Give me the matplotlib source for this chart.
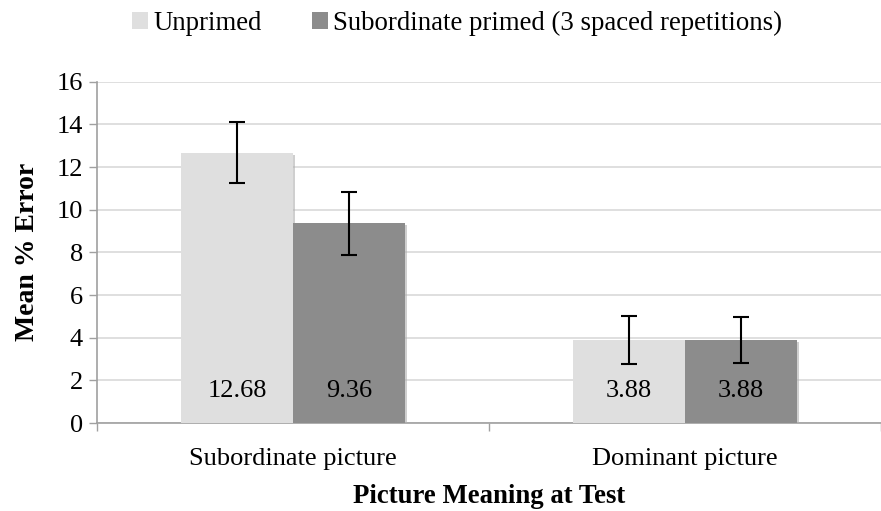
import matplotlib
matplotlib.use("Agg")
import matplotlib.pyplot as plt
import matplotlib.patheffects as pe
from matplotlib.patches import Patch
import numpy as np

categories = ["Subordinate picture", "Dominant picture"]
series_names = ["Unprimed", "Subordinate primed (3 spaced repetitions)"]
unprimed = [12.68, 3.88]
primed = [9.36, 3.88]
unprimed_err = [1.44, 1.12]
primed_err = [1.47, 1.07]
yticks = [0, 2, 4, 6, 8, 10, 12, 14, 16]

plt.rcParams['font.family'] = ['Liberation Serif', 'DejaVu Serif']

W, H = 881, 511
fig = plt.figure(figsize=(W/100, H/100), dpi=100)
left, right = 97, 881
bottom, top = 423, 81.7
ax = fig.add_axes([left/W, 1-bottom/H, (right-left)/W, (bottom-top)/H])

x = np.arange(len(categories))
bw = 0.286
c_light = "#dfdfdf"
c_dark = "#8c8c8c"
shadow = [pe.SimplePatchShadow(offset=(1.5, -1.5), shadow_rgbFace="#b0b0b0", alpha=0.6), pe.Normal()]

b1 = ax.bar(x - bw/2, unprimed, bw, color=c_light, zorder=3, path_effects=shadow)
b2 = ax.bar(x + bw/2, primed, bw, color=c_dark, zorder=3, path_effects=shadow)
ax.errorbar(x - bw/2, unprimed, yerr=unprimed_err, fmt='none', ecolor='black', elinewidth=1.5, capsize=5.7, capthick=1.5, zorder=4)
ax.errorbar(x + bw/2, primed, yerr=primed_err, fmt='none', ecolor='black', elinewidth=1.5, capsize=5.7, capthick=1.5, zorder=4)

for bars, vals in ((b1, unprimed), (b2, primed)):
    for r, v in zip(bars, vals):
        ax.text(r.get_x() + r.get_width()/2, 1.5, f"{v:.2f}", ha='center', va='center', fontsize=19, zorder=5)

ax.set_ylim(0, 16)
ax.set_yticks(yticks)
ax.set_xlim(-0.496, 1.469)
ax.set_xticks([-0.5, 0.5, 1.5], minor=False)
ax.set_xticklabels([])
ax.set_xticks(x, minor=True)
ax.set_xticklabels(categories, minor=True, fontsize=19)
ax.tick_params(axis='x', which='minor', length=0, pad=18)
ax.tick_params(axis='x', which='major', length=6, color='#a0a0a0', width=1)
ax.tick_params(axis='y', length=6, color='#a0a0a0', width=1, labelsize=19, pad=4)

ax.yaxis.grid(True, color='#d9d9d9', linewidth=1.2, zorder=0)
ax.set_axisbelow(True)
for s in ['top', 'right']:
    ax.spines[s].set_visible(False)
for s in ['left', 'bottom']:
    ax.spines[s].set_color('#a0a0a0')
    ax.spines[s].set_linewidth(1.2)

ax.set_ylabel("Mean % Error", fontsize=20, fontweight='bold', labelpad=12)
ax.set_xlabel("Picture Meaning at Test", fontsize=19.3, fontweight='bold', labelpad=10)

handles = [Patch(facecolor=c_light), Patch(facecolor=c_dark)]
leg = fig.legend(handles=handles, labels=series_names, loc='center', bbox_to_anchor=(0.519, 1-23/H),
                 ncol=2, frameon=False, fontsize=19.3, handlelength=0.6, handleheight=0.6,
                 handletextpad=0.2, columnspacing=1.85)

fig.savefig("out.png", dpi=100)
